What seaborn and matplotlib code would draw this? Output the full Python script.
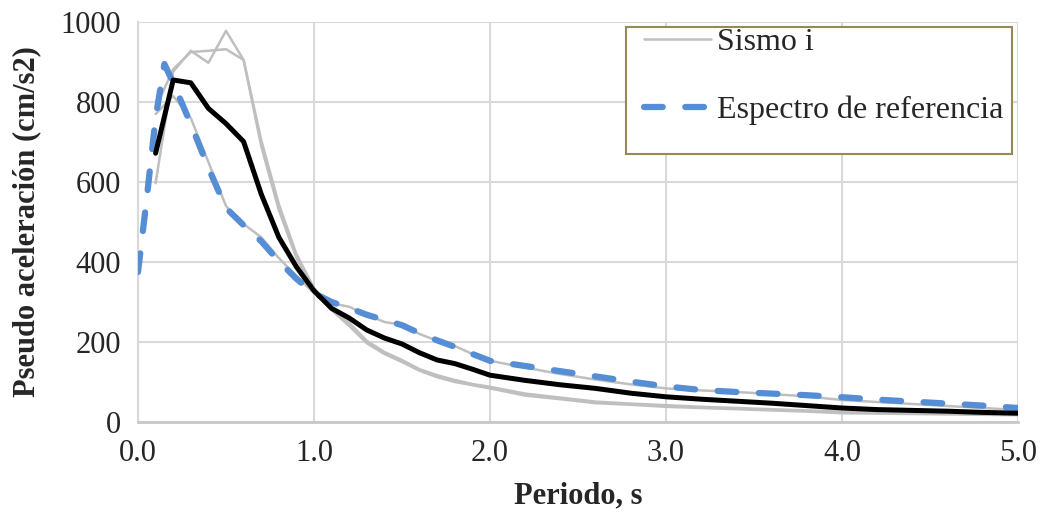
import pandas as pd
import matplotlib.pyplot as plt
import seaborn as sns
from matplotlib.patches import Rectangle

sns.set_style("white")
plt.rcParams['font.family'] = ['Liberation Serif', 'DejaVu Serif']

# Datos
periodo = [0.1, 0.2, 0.3, 0.4, 0.5, 0.6, 0.7, 0.8, 0.9, 1.0,
           1.1, 1.2, 1.3, 1.4, 1.5, 1.6, 1.7, 1.8, 1.9, 2.0,
           2.2, 2.4, 2.6, 2.8, 3.0, 3.2, 3.4, 3.6, 3.8, 4.0,
           4.2, 4.4, 4.6, 4.8, 5.0]
sismo_1 = [597, 876, 928, 898, 978, 905, 690, 530, 410, 330,
           280, 240, 197, 170, 150, 128, 112, 100, 92, 84,
           66, 57, 47, 43, 38, 35, 32, 29, 26, 22,
           21, 20, 19, 18, 17]
sismo_2 = [785, 882, 925, 928, 932, 905, 705, 545, 420, 335,
           285, 248, 203, 175, 155, 132, 117, 105, 95, 88,
           71, 61, 51, 46, 42, 38, 35, 32, 29, 26,
           24, 22, 21, 20, 19]
sismo_3 = [770, 815, 760, 650, 540, 495, 462, 410, 365, 322,
           297, 288, 268, 250, 243, 220, 203, 190, 170, 153,
           136, 120, 106, 94, 84, 79, 75, 70, 64, 55,
           50, 45, 40, 35, 30]
promedio = [672, 855, 848, 784, 746, 701, 570, 462, 388, 328,
            284, 260, 230, 210, 195, 173, 155, 146, 132, 117,
            104, 93, 84, 72, 63, 57, 52, 47, 41, 35,
            31, 29, 27, 24, 22]

periodo_ref = [0.0, 0.05, 0.1, 0.15, 0.2, 0.3, 0.4, 0.5, 0.6, 0.7, 0.8, 0.9, 1.0,
               1.1, 1.2, 1.3, 1.4, 1.5, 1.6, 1.7, 1.8, 1.9, 2.0,
               2.2, 2.4, 2.6, 2.8, 3.0, 3.2, 3.4, 3.6, 3.8, 4.0,
               4.2, 4.4, 4.6, 4.8, 5.0]
espectro_ref = [375, 560, 760, 895, 848, 745, 635, 535, 492, 452, 402, 358, 322,
                300, 285, 268, 255, 242, 222, 204, 188, 170, 153,
                140, 127, 114, 101, 89, 80, 75, 71, 67, 62,
                56, 51, 46, 41, 35]

df = pd.DataFrame({'T': periodo, 's1': sismo_1, 's2': sismo_2, 's3': sismo_3, 'prom': promedio})
df_ref = pd.DataFrame({'T': periodo_ref, 'Sa': espectro_ref})

fig = plt.figure(figsize=(10.42, 5.16), dpi=100)
ax = fig.add_axes([138 / 1042, 94 / 516, 880 / 1042, 400 / 516])

gris = '#bfbfbf'
for i, col in enumerate(['s1', 's2', 's3']):
    sns.lineplot(data=df, x='T', y=col, ax=ax, color=gris, linewidth=1.8,
                 label='Sismo i' if i == 0 else '_nolegend_', zorder=2)

sns.lineplot(data=df_ref, x='T', y='Sa', ax=ax, color='#558ed5', linewidth=4.5,
             dashes=False, label='Espectro de referencia', zorder=3)
ax.lines[-1].set_dashes((3, 3.6))
ax.lines[-1].set_dash_capstyle('round')

sns.lineplot(data=df, x='T', y='prom', ax=ax, color='black', linewidth=3.6,
             label='_nolegend_', zorder=4)

ax.set_xlim(0, 5)
ax.set_ylim(0, 1000)
ax.set_xticks([0, 1, 2, 3, 4, 5])
ax.set_xticklabels([f"{v:.1f}" for v in [0, 1, 2, 3, 4, 5]])
ax.set_yticks([0, 200, 400, 600, 800, 1000])
ax.grid(True, color='#d9d9d9', linewidth=1.5)
ax.set_axisbelow(True)
for s in ['top', 'right']:
    ax.spines[s].set_visible(False)
ax.spines['left'].set_color('#d9d9d9')
ax.spines['left'].set_linewidth(1.5)
ax.spines['bottom'].set_color('#c8c8c8')
ax.spines['bottom'].set_linewidth(2)
ax.tick_params(axis='both', length=0, labelsize=22, pad=12)

ax.set_xlabel('Periodo, s', fontsize=22, fontweight='bold', labelpad=10)
ax.set_ylabel('Pseudo aceleración (cm/s2)', fontsize=22, fontweight='bold', labelpad=14)

# Caja de la leyenda (como en Excel, mas alta que su contenido)
caja = Rectangle(((626 - 138) / 880, (422 - 154) / 400), (1012 - 626) / 880, 127 / 400,
                 transform=ax.transAxes, facecolor='white', edgecolor='#948a54',
                 linewidth=1.5, zorder=5)
ax.add_patch(caja)

handles, labels = ax.get_legend_handles_labels()
leg = ax.legend(handles, labels, loc='upper left', bbox_to_anchor=(0.575, 0.985),
                fontsize=23, frameon=False, handlelength=2.1,
                handletextpad=0.2, labelspacing=1.2, borderpad=0, borderaxespad=0)
leg.set_zorder(6)

plt.savefig('out.png', dpi=100)
